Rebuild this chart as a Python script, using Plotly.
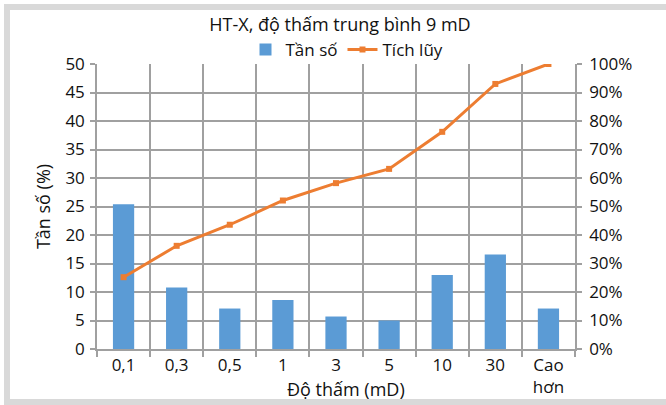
import plotly.graph_objects as go

categories = ["0,1", "0,3", "0,5", "1", "3", "5", "10", "30", "Cao<br>hơn"]
tan_so = [25.4, 10.8, 7.1, 8.6, 5.7, 5.0, 13.0, 16.6, 7.1]
tich_luy = [25.2, 36.2, 43.6, 52.1, 58.2, 63.2, 76.2, 93.0, 100.0]

W, H = 666, 405
L, R, T, B = 97, 575, 64, 349
pw, ph = R - L, B - T

def px(x):
    return (x - L) / pw

def py(y):
    return (B - y) / ph

FONT = "Open Sans"
GRID = "#a0a0a0"
TXT = "#111111"

fig = go.Figure()
fig.add_trace(go.Bar(x=categories, y=tan_so, name="Tần số",
                     marker=dict(color="#5b9bd5", line=dict(width=0)),
                     width=0.4, yaxis="y"))
fig.add_trace(go.Scatter(x=categories, y=tich_luy, name="Tích lũy", mode="lines+markers",
                         line=dict(color="#ed7d31", width=3),
                         marker=dict(color="#ed7d31", size=6, symbol="square"),
                         yaxis="y2"))

fig.update_layout(
    width=W, height=H,
    margin=dict(l=L, r=W - R, t=T, b=H - B, autoexpand=False),
    paper_bgcolor="white", plot_bgcolor="rgba(0,0,0,0)",
    font=dict(family=FONT, size=17, color=TXT),
    title=dict(text="HT-X, độ thấm trung bình 9 mD", x=px(340), xref="paper", xanchor="center",
               y=1 - 25 / H, yanchor="middle", font=dict(size=18, color=TXT)),
    showlegend=True,
    legend=dict(orientation="h", x=px(347), xanchor="center", y=py(50), yanchor="middle",
                font=dict(size=17, color=TXT), bgcolor="rgba(0,0,0,0)", tracegroupgap=0),
    xaxis=dict(type="category", tickson="boundaries", showgrid=True, gridcolor=GRID, gridwidth=1.5,
               ticks="outside", ticklen=6, tickcolor=GRID, tickwidth=1.5, automargin=False,
               showline=True, linecolor=GRID, linewidth=1.5, tickfont=dict(size=17, color=TXT),
               range=[-0.5, 8.5]),
    yaxis=dict(range=[0, 50], dtick=5, showgrid=True, gridcolor=GRID, gridwidth=1.5,
               ticks="outside", ticklen=5, tickcolor=GRID, tickwidth=1.5, automargin=False,
               showline=True, linecolor=GRID, linewidth=1.5, zeroline=False,
               ticklabelstandoff=2,
               title=dict(text="Tần số (%)", standoff=10, font=dict(size=18, color=TXT)),
               tickfont=dict(size=17, color=TXT)),
    yaxis2=dict(range=[0, 100], dtick=10, ticksuffix="%", overlaying="y", side="right",
                showgrid=False, ticks="outside", ticklen=5, tickcolor=GRID, tickwidth=1.5,
                showline=True, linecolor=GRID, linewidth=1.5, zeroline=False, automargin=False,
                ticklabelstandoff=4,
                tickfont=dict(size=17, color=TXT)),
    shapes=[
        dict(type="rect", xref="paper", yref="paper", layer="below",
             x0=px(4), x1=px(700), y0=py(405), y1=py(4),
             fillcolor="#d9d9d9", line=dict(width=0)),
        dict(type="rect", xref="paper", yref="paper", layer="below",
             x0=px(10), x1=px(700), y0=py(399), y1=py(10),
             fillcolor="white", line=dict(width=0)),
    ],
    annotations=[
        dict(text="Độ thấm (mD)", xref="paper", yref="paper", x=px(346), y=py(389),
             xanchor="center", yanchor="middle", showarrow=False, font=dict(size=18, color=TXT)),
    ],
)

fig.write_html("out.html")
